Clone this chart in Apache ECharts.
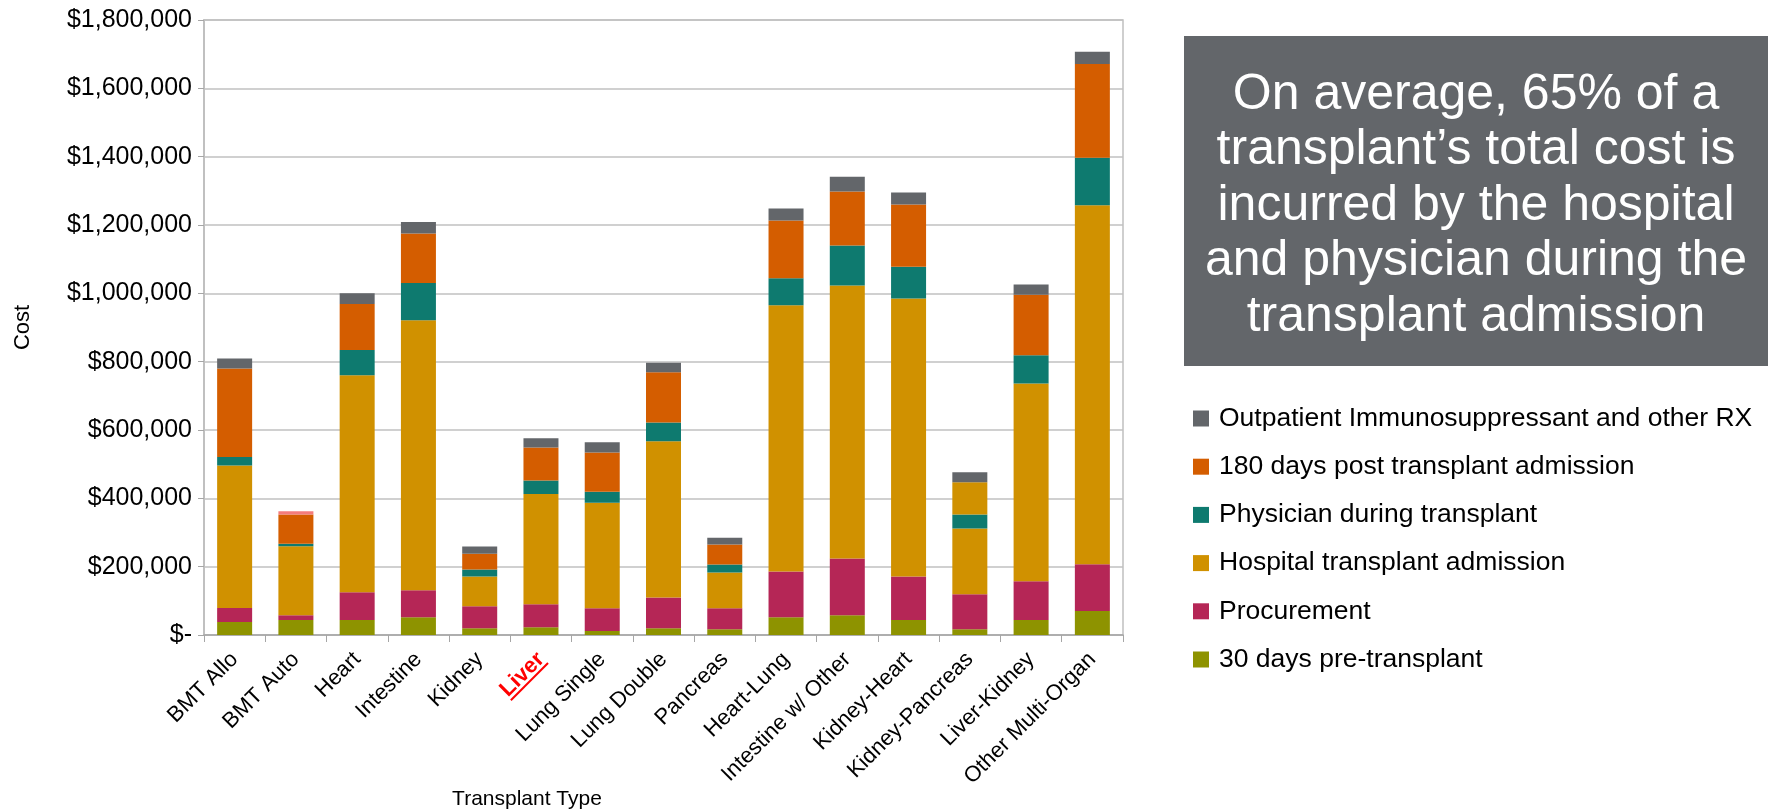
<!DOCTYPE html>
<html>
<head>
<meta charset="utf-8">
<script src="https://cdn.jsdelivr.net/npm/echarts@6/dist/echarts.min.js"></script>
<style>
html,body{margin:0;padding:0;background:#fff;}
#chart{width:1768px;height:811px;}
</style>
</head>
<body>
<div id="chart"></div>
<script>
// ---- DATA ----
const categories = ['BMT Allo','BMT Auto','Heart','Intestine','Kidney','Liver','Lung Single','Lung Double','Pancreas','Heart-Lung','Intestine w/ Other','Kidney-Heart','Kidney-Pancreas','Liver-Kidney','Other Multi-Organ'];
const pre30       = [38000, 44000, 44000, 52000, 20000, 23000, 12000, 20000, 17000, 52000, 58000, 44000, 17000, 44000, 70000];
const procurement = [41000, 14000, 81000, 79000, 64000, 67000, 66000, 90000, 61000, 134000, 166000, 127000, 102000, 113000, 137000];
const hospital    = [417000, 202000, 635000, 790000, 87000, 323000, 309000, 457000, 105000, 779000, 799000, 814000, 193000, 579000, 1051000];
const physician   = [25000, 7000, 74000, 109000, 21000, 39000, 32000, 55000, 23000, 79000, 117000, 93000, 41000, 83000, 139000];
const post180     = [259000, 86000, 135000, 145000, 46000, 97000, 115000, 147000, 59000, 169000, 158000, 182000, 94000, 177000, 274000];
const outpatient  = [29000, 9000, 31000, 34000, 21000, 27000, 30000, 28000, 20000, 35000, 43000, 35000, 29000, 30000, 36000];
const yTicks = [0, 200000, 400000, 600000, 800000, 1000000, 1200000, 1400000, 1600000, 1800000];
const seriesNames = ['30 days pre-transplant','Procurement','Hospital transplant admission','Physician during transplant','180 days post transplant admission','Outpatient Immunosuppressant and other RX'];
const noteText = 'On average, 65% of a\ntransplant\u2019s total cost is\nincurred by the hospital\nand physician during the\ntransplant admission';

// ---- STYLE ----
const FONT = '"Liberation Sans", Arial, sans-serif';
const colors = ['#8E9300','#B52656','#D09100','#0E7A6F','#D45D00','#63666A'];
// per-point colour overrides seen in the reference
const overrides = {5: {'BMT Auto': '#F47C7C'}, 4: {'Kidney-Pancreas': '#D09100'}};

const seriesData = [pre30, procurement, hospital, physician, post180, outpatient];

const chart = echarts.init(document.getElementById('chart'), null, {renderer: 'canvas'});

const series = seriesData.map((arr, si) => ({
  name: seriesNames[si],
  type: 'bar',
  stack: 'total',
  barWidth: 35,
  itemStyle: {color: colors[si]},
  emphasis: {disabled: true},
  data: arr.map((v, ci) => {
    const o = overrides[si] && overrides[si][categories[ci]];
    return o ? {value: v, itemStyle: {color: o}} : v;
  })
}));

const LABEL_SIZE = 22;
const MARGIN = 21;
const option = {
  animation: false,
  backgroundColor: '#ffffff',
  textStyle: {fontFamily: FONT},
  grid: {left: 204, right: 645, top: 20, bottom: 176, show: true, borderColor: '#C0C0C0', borderWidth: 1.5, backgroundColor: 'transparent'},
  legend: {
    orient: 'vertical',
    left: 1188,
    top: 400,
    itemWidth: 16,
    itemHeight: 16,
    itemGap: 21.2,
    icon: 'rect',
    data: seriesNames.slice().reverse(),
    textStyle: {fontFamily: FONT, fontSize: 26.5, color: '#000', lineHeight: 26.5, padding: [0,0,0,5]},
    selectedMode: false
  },
  xAxis: {
    type: 'category',
    data: categories,
    axisLine: {lineStyle: {color: '#A6A6A6', width: 1.5}},
    axisTick: {show: true, length: 7, lineStyle: {color: '#A6A6A6'}},
    axisLabel: {
      rotate: 45,
      margin: MARGIN,
      interval: 0,
      fontSize: LABEL_SIZE,
      color: '#000',
      fontFamily: FONT,
      formatter: v => v === 'Liver' ? '{liver|' + v + '}' : v,
      rich: {liver: {color: '#FF0000', fontWeight: 'bold', fontSize: LABEL_SIZE, fontFamily: FONT}}
    }
  },
  yAxis: {
    type: 'value',
    min: yTicks[0],
    max: yTicks[yTicks.length - 1],
    interval: yTicks[1] - yTicks[0],
    name: 'Cost',
    nameLocation: 'middle',
    nameGap: 170,
    nameTextStyle: {fontSize: 22, color: '#000', fontFamily: FONT},
    axisLine: {show: true, lineStyle: {color: '#C0C0C0', width: 2}},
    axisTick: {show: true, length: 6, lineStyle: {color: '#A6A6A6'}},
    splitLine: {lineStyle: {color: '#C0C0C0', width: 1.5}},
    axisLabel: {
      fontSize: 25,
      color: '#000',
      fontFamily: FONT,
      margin: 12,
      formatter: v => v === 0 ? '$-' : '$' + v.toLocaleString('en-US')
    }
  },
  series: series,
  graphic: [
    {type: 'rect', left: 1184, top: 36, shape: {width: 584, height: 330}, style: {fill: '#63666A'}, z: 10},
    {type: 'text', x: 1476, y: 206, z: 11, style: {text: noteText, fill: '#fff', font: '50px ' + FONT, align: 'center', verticalAlign: 'middle', lineHeight: 55.5}},
    {type: 'text', x: 527, y: 799, z: 11, style: {text: 'Transplant Type', fill: '#000', font: '21px ' + FONT, align: 'center', verticalAlign: 'middle'}}
  ]
};
chart.setOption(option);

// underline under the red "Liver" label, positioned from the axis scale
const px = chart.convertToPixel({xAxisIndex: 0}, 'Liver');
const axisY = chart.convertToPixel({yAxisIndex: 0}, 0);
const ctx = document.createElement('canvas').getContext('2d');
ctx.font = 'bold ' + LABEL_SIZE + 'px ' + FONT;
const w = ctx.measureText('Liver').width;
const c = Math.SQRT1_2;
const d = 10; // offset below text middle
const x0 = px + c * d, y0 = axisY + MARGIN + c * d;
chart.setOption({graphic: option.graphic.concat([
  {type: 'line', z: 12, shape: {x1: x0, y1: y0, x2: x0 - c * w, y2: y0 + c * w}, style: {stroke: '#FF0000', lineWidth: 2}}
])});
</script>
</body>
</html>
